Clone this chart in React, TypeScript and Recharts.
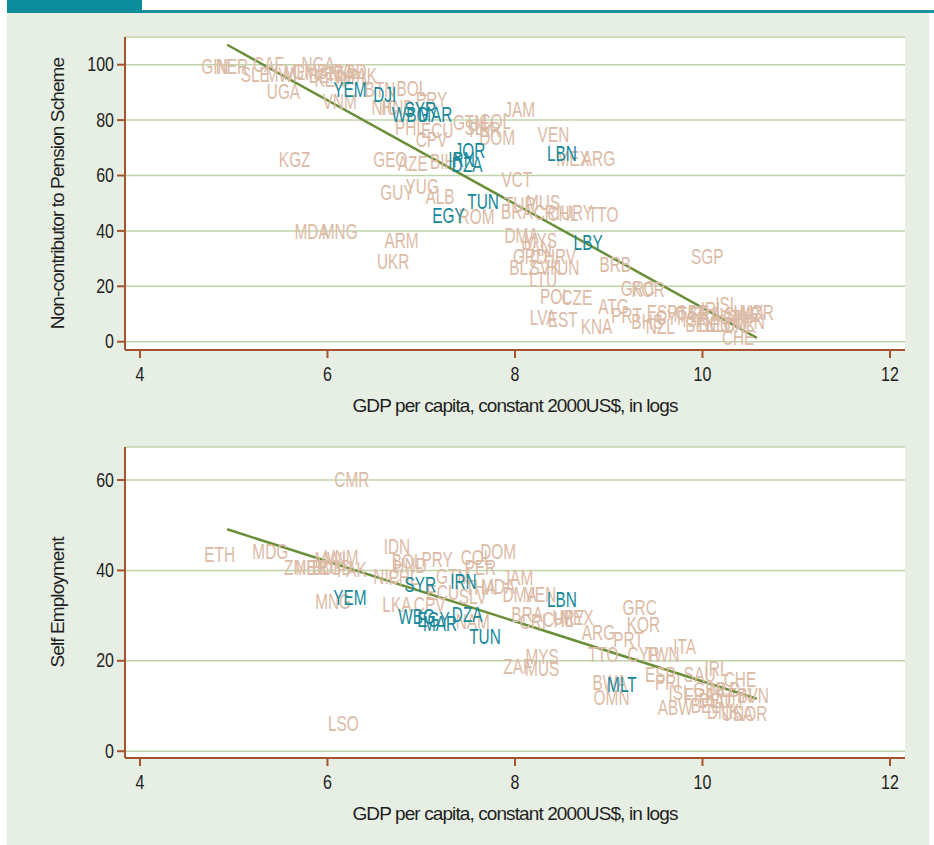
import { ScatterChart, Scatter, XAxis, YAxis, CartesianGrid, ReferenceLine } from 'recharts';

// country codes shown in teal (MENA)
const menaCodes = ['YEM', 'DJI', 'SYR', 'WBG', 'MAR', 'JOR', 'IRN', 'DZA', 'LBN', 'TUN', 'EGY', 'LBY', 'MLT'];

const xTicks = [4, 6, 8, 10, 12];

// panel 1: non-contributors to pension scheme
const pensionCodes = [
  'GIN', 'NER', 'SLE', 'CAF', 'MWI', 'MLI', 'GMB', 'BEN', 'UGA', 'NGA', 'TZA', 'KEN', 'NPL', 'BGD', 'PAK',
  'VNM', 'YEM', 'DJI', 'BTN', 'BOL', 'PRY', 'NIC', 'HND', 'SYR', 'WBG', 'MAR', 'PHL', 'ECU', 'CPV', 'GTM',
  'SLV', 'COL', 'PER', 'DOM', 'JAM', 'VEN', 'LBN', 'MEX', 'ARG', 'KGZ', 'GEO', 'AZE', 'BIH', 'JOR', 'IRN',
  'DZA', 'VCT', 'GUY', 'YUG', 'ALB', 'TUN', 'EGY', 'ROM', 'TUR', 'BRA', 'MUS', 'CRI', 'CHL', 'URY', 'TTO',
  'DMA', 'MYS', 'PAN', 'LBY', 'GRD', 'HRV', 'BLZ', 'HUN', 'SVK', 'LTU', 'BRB', 'POL', 'CZE', 'LVA', 'EST',
  'KNA', 'ATG', 'PRT', 'BHS', 'NZL', 'ESP', 'GRC', 'KOR', 'SGP', 'ISL', 'IRL', 'BEL', 'DEU', 'FRA', 'GBR',
  'ITA', 'AUT', 'FIN', 'SWE', 'CHE', 'NOR', 'LUX', 'JPN', 'DNK', 'NLD', 'ISR', 'CYP', 'MDA', 'MNG', 'ARM', 'UKR',
];
const pensionGdp = [
  4.80, 4.98, 5.23, 5.37, 5.51, 5.67, 5.81, 5.97, 5.53, 5.90, 6.13, 6.03, 6.29, 6.24, 6.37,
  6.13, 6.24, 6.61, 6.56, 6.90, 7.11, 6.61, 6.75, 6.99, 6.88, 7.15, 6.88, 7.17, 7.11, 7.52,
  7.61, 7.79, 7.68, 7.81, 8.05, 8.41, 8.50, 8.62, 8.89, 5.65, 6.67, 6.91, 7.23, 7.52, 7.43,
  7.49, 8.02, 6.74, 7.01, 7.20, 7.66, 7.29, 7.59, 8.05, 8.02, 8.30, 8.34, 8.51, 8.66, 8.94,
  8.07, 8.27, 8.23, 8.78, 8.16, 8.48, 8.09, 8.51, 8.32, 8.30, 9.07, 8.43, 8.66, 8.30, 8.51,
  8.87, 9.05, 9.19, 9.41, 9.55, 9.57, 9.31, 9.42, 10.05, 10.26, 10.11, 9.97, 10.13, 10.03, 9.89,
  9.81, 10.24, 10.35, 10.42, 10.38, 10.58, 10.49, 10.51, 10.40, 10.19, 9.92, 9.67, 5.83, 6.13, 6.79, 6.70,
];
const pensionShare = [
  99.3, 99.3, 96.4, 100.0, 96.4, 97.1, 97.5, 96.0, 90.3, 100.0, 96.8, 94.6, 95.3, 97.5, 96.0,
  86.6, 91.0, 89.2, 91.0, 91.3, 87.4, 84.5, 84.5, 83.8, 82.0, 82.0, 77.3, 76.2, 72.9, 79.1,
  77.3, 79.4, 76.5, 73.6, 83.8, 74.7, 67.9, 66.1, 66.1, 65.7, 65.7, 64.3, 65.0, 69.0, 65.7,
  63.9, 58.5, 53.8, 56.0, 52.3, 50.5, 45.5, 45.1, 49.5, 46.9, 50.2, 46.6, 46.2, 46.6, 45.8,
  38.3, 36.5, 33.6, 35.7, 30.7, 30.7, 26.7, 26.7, 26.7, 22.4, 27.8, 16.2, 15.9, 8.7, 7.9,
  5.4, 12.6, 9.4, 7.2, 5.4, 10.5, 19.1, 18.8, 30.7, 13.4, 11.6, 6.1, 6.1, 9.7, 10.5,
  9.7, 8.7, 7.9, 9.7, 1.4, 10.5, 10.5, 7.2, 5.8, 6.1, 7.9, 8.7, 39.7, 39.7, 36.5, 28.9,
];
const pensionFitGdp = [4.93, 10.58];
const pensionFitShare = [107.2, 1.4];

// panel 2: self employment
const selfCodes = [
  'CMR', 'ETH', 'MDG', 'ZMB', 'NER', 'BDI', 'BGD', 'MWI', 'VNM', 'PAK', 'MNG', 'YEM', 'IDN', 'BOL', 'HND',
  'PRY', 'NIC', 'PHL', 'SYR', 'GTM', 'IRN', 'LKA', 'CPV', 'ECU', 'WBG', 'EGY', 'MAR', 'DZA', 'NAM', 'TUN',
  'COL', 'DOM', 'PER', 'SLV', 'THA', 'MDA', 'JAM', 'DMA', 'VEN', 'BRA', 'CRI', 'CHL', 'URY', 'MEX', 'LBN',
  'ARG', 'PRT', 'GRC', 'KOR', 'TTO', 'CYP', 'TWN', 'ITA', 'MYS', 'ZAF', 'MUS', 'BWA', 'MLT', 'OMN', 'ESP',
  'PRI', 'ISL', 'ABW', 'IRL', 'SAU', 'CHE', 'SVN', 'DNK', 'USA', 'NOR', 'GBR', 'NLD', 'FRA', 'DEU', 'AUT',
  'FIN', 'BEL', 'LSO',
];
const selfGdp = [
  6.26, 4.85, 5.39, 5.71, 5.83, 5.97, 6.09, 6.03, 6.15, 6.26, 6.06, 6.24, 6.74, 6.85, 6.88,
  7.17, 6.63, 6.81, 6.99, 7.34, 7.45, 6.74, 7.09, 7.23, 6.95, 7.13, 7.20, 7.49, 7.55, 7.68,
  7.59, 7.82, 7.63, 7.55, 7.63, 7.82, 8.03, 8.05, 8.27, 8.13, 8.19, 8.46, 8.57, 8.66, 8.50,
  8.89, 9.21, 9.33, 9.37, 8.94, 9.37, 9.57, 9.81, 8.29, 8.03, 8.29, 9.01, 9.14, 9.03, 9.55,
  9.63, 9.76, 9.71, 10.15, 9.97, 10.40, 10.54, 10.22, 10.37, 10.51, 10.08, 10.24, 9.97, 10.13, 10.29,
  10.40, 10.03, 6.17,
];
const selfShare = [
  60.2, 43.6, 44.2, 40.7, 40.7, 40.7, 40.7, 42.4, 42.9, 40.2, 33.1, 34.0, 45.3, 42.0, 41.1,
  42.4, 38.7, 38.4, 36.9, 38.7, 37.6, 32.4, 32.4, 35.1, 29.8, 29.1, 28.2, 30.2, 28.7, 25.3,
  42.9, 44.2, 40.7, 34.2, 36.2, 36.4, 38.4, 34.7, 34.7, 30.2, 28.7, 29.1, 29.6, 29.6, 33.6,
  26.2, 24.7, 31.8, 28.0, 21.3, 21.3, 21.3, 23.1, 20.9, 18.7, 18.4, 15.1, 14.7, 12.0, 16.9,
  15.1, 13.1, 9.6, 18.4, 16.9, 15.8, 12.4, 8.7, 8.4, 8.4, 13.6, 13.6, 12.4, 11.3, 11.3,
  12.4, 10.2, 6.2,
];
const selfFitGdp = [4.93, 10.58];
const selfFitShare = [49.1, 11.6];

const FONT = '"Liberation Sans", Arial, sans-serif';
const TAN = '#dcbba6';
const TEAL = '#17889a';
const AXIS = '#a4552f';
const GRID = '#bfd4ab';
const FIT = '#6a8f38';
const INK = '#1e1e1e';

function buildRows(codes: string[], gdp: number[], vals: number[]) {
  return codes.map((code, i) => ({ code, gdp: gdp[i], val: vals[i] }));
}

// country code drawn centred on the point, in a narrowed face
function CodeLabel(props: any) {
  const { cx, cy, payload, fill } = props;
  if (cx == null || cy == null) return null;
  return (
    <text
      transform={`translate(${cx},${cy}) scale(0.7,1)`}
      textAnchor="middle"
      dominantBaseline="central"
      fill={fill}
      fontSize={22}
      fontFamily={FONT}
    >
      {payload.code}
    </text>
  );
}

function XTick(props: any) {
  const { x, y, payload } = props;
  return (
    <text transform={`translate(${x},${y + 17}) scale(0.8,1)`} textAnchor="middle" fill={INK} fontSize={20} fontFamily={FONT}>
      {payload.value}
    </text>
  );
}

function YTick(props: any) {
  const { x, y, payload } = props;
  return (
    <text
      transform={`translate(${x},${y}) scale(0.8,1)`}
      textAnchor="end"
      dominantBaseline="central"
      fill={INK}
      fontSize={20}
      fontFamily={FONT}
    >
      {payload.value}
    </text>
  );
}

interface PanelProps {
  codes: string[];
  gdp: number[];
  vals: number[];
  fitGdp: number[];
  fitVals: number[];
  yDomain: [number, number];
  yTicks: number[];
  yTitle: string;
  plotHeight: number;
}

function Panel({ codes, gdp, vals, fitGdp, fitVals, yDomain, yTicks, yTitle, plotHeight }: PanelProps) {
  const rows = buildRows(codes, gdp, vals);
  const other = rows.filter((r) => !menaCodes.includes(r.code));
  const mena = rows.filter((r) => menaCodes.includes(r.code));
  const top = 37;
  return (
    <ScatterChart width={934} height={top + plotHeight + 72} margin={{ top, right: 29, bottom: 0, left: 40 }}>
      <CartesianGrid vertical={false} stroke={GRID} strokeWidth={1.5} fill="#ffffff" />
      <XAxis
        type="number"
        dataKey="gdp"
        domain={[3.84, 12.16]}
        ticks={xTicks}
        allowDataOverflow
        height={72}
        stroke={AXIS}
        strokeWidth={2}
        tickSize={8}
        tickMargin={6}
        tick={<XTick />}
        tickLine={{ stroke: AXIS, strokeWidth: 2 }}
        label={{
          value: 'GDP per capita, constant 2000US$, in logs',
          position: 'insideBottom',
          offset: 10,
          style: { fill: INK, fontSize: 19, fontFamily: FONT, letterSpacing: -0.9 },
        }}
      />
      <YAxis
        type="number"
        dataKey="val"
        domain={yDomain}
        ticks={yTicks}
        allowDataOverflow
        width={85}
        stroke={AXIS}
        strokeWidth={2}
        tickSize={8}
        tickMargin={3}
        tick={<YTick />}
        tickLine={{ stroke: AXIS, strokeWidth: 2 }}
        label={{
          value: yTitle,
          angle: -90,
          position: 'insideLeft',
          offset: 17,
          style: { textAnchor: 'middle', fill: INK, fontSize: 19, fontFamily: FONT, letterSpacing: -0.9 },
        }}
      />
      <Scatter data={other} fill={TAN} shape={<CodeLabel />} isAnimationActive={false} />
      <Scatter data={mena} fill={TEAL} shape={<CodeLabel />} isAnimationActive={false} />
      <ReferenceLine
        segment={[
          { x: fitGdp[0], y: fitVals[0] },
          { x: fitGdp[1], y: fitVals[1] },
        ]}
        stroke={FIT}
        strokeWidth={2.5}
        ifOverflow="visible"
      />
    </ScatterChart>
  );
}

export default function App() {
  return (
    <div style={{ position: 'absolute', left: 0, top: 0, width: 934, height: 845, background: '#ffffff', overflow: 'hidden' }}>
      <div style={{ position: 'absolute', left: 7, top: 13, width: 922, height: 832, background: '#e7eee3' }} />
      <div style={{ position: 'absolute', left: 7, top: 0, width: 135, height: 13, background: '#0b8d9c' }} />
      <div style={{ position: 'absolute', left: 142, top: 10, width: 792, height: 3, background: '#1a93a0' }} />
      <div style={{ position: 'absolute', left: 0, top: 0 }}>
        <Panel
          codes={pensionCodes}
          gdp={pensionGdp}
          vals={pensionShare}
          fitGdp={pensionFitGdp}
          fitVals={pensionFitShare}
          yDomain={[-3, 110]}
          yTicks={[0, 20, 40, 60, 80, 100]}
          yTitle="Non-contributor to Pension Scheme"
          plotHeight={313}
        />
      </div>
      <div style={{ position: 'absolute', left: 0, top: 410 }}>
        <Panel
          codes={selfCodes}
          gdp={selfGdp}
          vals={selfShare}
          fitGdp={selfFitGdp}
          fitVals={selfFitShare}
          yDomain={[-1.5, 67.3]}
          yTicks={[0, 20, 40, 60]}
          yTitle="Self Employment"
          plotHeight={311}
        />
      </div>
    </div>
  );
}
